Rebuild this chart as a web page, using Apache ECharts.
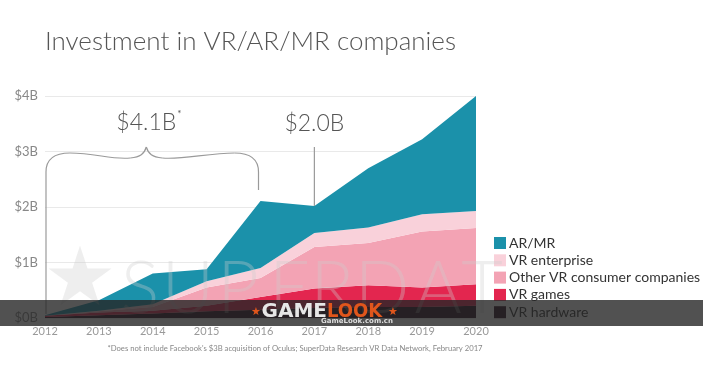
<!DOCTYPE html>
<html><head><meta charset="utf-8">
<script src="https://cdn.jsdelivr.net/npm/echarts@6/dist/echarts.min.js"></script>
<style>html,body{margin:0;padding:0;background:#fff}#c{width:703px;height:375px}</style>
</head><body><div id="c"></div>
<script>
const years = ['2012','2013','2014','2015','2016','2017','2018','2019','2020'];
const vrHardware = [0.02, 0.05, 0.08, 0.12, 0.15, 0.18, 0.20, 0.20, 0.22];
const vrGames    = [0.02, 0.05, 0.05, 0.10, 0.23, 0.35, 0.39, 0.35, 0.39];
const otherVR    = [0.00, 0.02, 0.07, 0.33, 0.34, 0.75, 0.76, 1.01, 1.01];
const vrEnterprise=[0.00, 0.01, 0.05, 0.11, 0.18, 0.25, 0.28, 0.31, 0.31];
const arMr       = [0.01, 0.19, 0.55, 0.22, 1.21, 0.49, 1.07, 1.35, 2.07];
const yTicks = ['$0B','$1B','$2B','$3B','$4B'];
const seriesNames = ['VR hardware','VR games','Other VR consumer companies','VR enterprise','AR/MR'];
const seriesColors = ['#2b0e1f','#e3264f','#f3a3b4','#f9d1da','#1b91aa'];
const seriesData = [vrHardware, vrGames, otherVR, vrEnterprise, arMr];

const FONT = 'Lato, "Open Sans", sans-serif';
const chart = echarts.init(document.getElementById('c'), null, {renderer:'canvas'});
chart.setOption({
  animation: false,
  backgroundColor: '#fff',
  textStyle: {fontFamily: FONT},
  title: {
    text: 'Investment in VR/AR/MR companies',
    left: 40, top: 24,
    textStyle: {fontFamily: FONT, fontSize: 26, fontWeight: 300, color: '#555'}
  },
  legend: {
    orient: 'vertical', left: 489, top: 231,
    data: ['AR/MR','VR enterprise','Other VR consumer companies','VR games','VR hardware'],
    icon: 'rect', itemWidth: 12, itemHeight: 12, itemGap: 3.3,
    textStyle: {fontFamily: FONT, fontSize: 14, color: '#333', padding: [0,0,0,-2]}
  },
  grid: {left: 45, right: 227, top: 96, bottom: 57},
  xAxis: {
    type: 'category', data: years, boundaryGap: false,
    axisLine: {show: false}, axisTick: {show: false},
    axisLabel: {color: '#999', fontSize: 11, margin: 8, fontFamily: FONT}
  },
  yAxis: {
    type: 'value', min: 0, max: 4, interval: 1,
    axisLabel: {color: '#888', fontSize: 13, margin: 7, fontFamily: FONT,
      formatter: v => yTicks[Math.round(v)]},
    splitLine: {lineStyle: {color: '#e9e9e9', width: 1}},
    axisLine: {show: false}, axisTick: {show: false}
  },
  series: seriesNames.map((n, i) => ({
    name: n, type: 'line', stack: 'total', data: seriesData[i],
    symbol: 'none', lineStyle: {width: 0}, itemStyle: {color: seriesColors[i]},
    areaStyle: {color: seriesColors[i], opacity: 1}, z: 2
  }))
});

function px(xi, yv) { return chart.convertToPixel({gridIndex: 0}, [xi, yv]); }
const totals = years.map((_, i) => seriesData.reduce((s, a) => s + a[i], 0));
const p2012b = px(0, 0), p2016 = px(4, 0), p2017 = px(5, totals[5]);
const x0 = p2012b[0] + 1, x1 = p2016[0] - 2, yb = p2012b[1] - 4;
const mid = x0 + (x1 - x0) * 0.472;
const yl = 153;
const BS = {fill: null, stroke: '#9a9a9a', lineWidth: 1.2};
function bz(a, b, c, d) {
  return {type: 'bezierCurve', z: 6, silent: true,
    shape: {x1: a[0], y1: a[1], cpx1: b[0], cpy1: b[1], cpx2: c[0], cpy2: c[1], x2: d[0], y2: d[1]}, style: BS};
}
function ln(a, b) {
  return {type: 'line', z: 6, silent: true, shape: {x1: a[0], y1: a[1], x2: b[0], y2: b[1]}, style: BS};
}
const brace = [
  ln([x0, yb], [x0, yl + 19]),
  bz([x0, yl + 19], [x0, yl + 6], [x0 + 8, yl], [x0 + 24, yl]),
  bz([x0 + 24, yl], [x0 + 50, yl], [mid - 35, yl + 7], [mid - 16, yl + 5]),
  bz([mid - 16, yl + 5], [mid - 6, yl + 4], [mid - 2, yl + 1], [mid, yl - 6]),
  bz([mid, yl - 6], [mid + 2, yl + 1], [mid + 6, yl + 4], [mid + 16, yl + 5]),
  bz([mid + 16, yl + 5], [mid + 35, yl + 7], [x1 - 50, yl], [x1 - 24, yl]),
  bz([x1 - 24, yl], [x1 - 8, yl], [x1, yl + 6], [x1, yl + 19]),
  ln([x1, yl + 19], [x1, yl + 37])
];

const bandTop = 300, bandH = 26;
const WM = 'rgba(205,205,205,0.34)';
const wmLetters = 'SUPERDAT'.split('');
const wmCenters = [140, 188, 238, 290, 332, 382, 438, 482];
const wm = wmLetters.map((ch, i) => ({type: 'text', x: wmCenters[i], y: 254, z: 5, silent: true,
  style: {text: ch, font: '300 72px ' + FONT, fill: WM, textAlign: 'center'}}));
chart.setOption({
  graphic: [
    {type: 'text', x: 80, y: 284, z: 5, silent: true,
      style: {text: '★', font: '82px "DejaVu Sans", sans-serif', fill: WM, textAlign: 'center', textVerticalAlign: 'middle'}},
    ...wm,
    ...brace,
    {type: 'text', x: mid, y: 123, z: 6,
      style: {text: '$4.1B', font: '300 23px ' + FONT, fill: '#555', textAlign: 'center', textVerticalAlign: 'middle'}},
    {type: 'text', x: mid + 31, y: 114, z: 6,
      style: {text: '*', font: '10px ' + FONT, fill: '#555', textAlign: 'left', textVerticalAlign: 'middle'}},
    {type: 'text', x: p2017[0], y: 124, z: 6,
      style: {text: '$2.0B', font: '300 23px ' + FONT, fill: '#555', textAlign: 'center', textVerticalAlign: 'middle'}},
    ln([p2017[0], 147], [p2017[0], p2017[1]]),
    {type: 'text', x: 295, y: 349, z: 6,
      style: {text: "*Does not include Facebook's $3B acquisition of Oculus; SuperData Research VR Data Network, February 2017",
        font: '7.7px ' + FONT, fill: '#888', textAlign: 'center', textVerticalAlign: 'middle'}},
    {type: 'rect', z: 20, shape: {x: 0, y: bandTop, width: 703, height: bandH},
      style: {fill: 'rgba(38,38,38,0.8)'}},
    {type: 'text', x: 327, y: 312, z: 21,
      style: {text: 'GAME', font: 'bold 20px "DejaVu Sans", sans-serif', fill: '#e6e6e6', textAlign: 'right', textVerticalAlign: 'middle'}},
    {type: 'text', x: 327, y: 312, z: 21,
      style: {text: 'LOOK', font: 'bold 20px "DejaVu Sans Condensed", "DejaVu Sans", sans-serif', fill: '#e0561c', textAlign: 'left', textVerticalAlign: 'middle'}},
    {type: 'text', x: 256, y: 312, z: 21,
      style: {text: '★', font: '11px "DejaVu Sans", sans-serif', fill: '#e0561c', textAlign: 'center', textVerticalAlign: 'middle'}},
    {type: 'text', x: 393, y: 312, z: 21,
      style: {text: '★', font: '11px "DejaVu Sans", sans-serif', fill: '#e0561c', textAlign: 'center', textVerticalAlign: 'middle'}},
    {type: 'text', x: 357, y: 321, z: 21,
      style: {text: 'GameLook.com.cn', font: 'bold 7px "DejaVu Sans", sans-serif', fill: '#ddd', textAlign: 'center', textVerticalAlign: 'middle'}}
  ]
});
</script></body></html>
